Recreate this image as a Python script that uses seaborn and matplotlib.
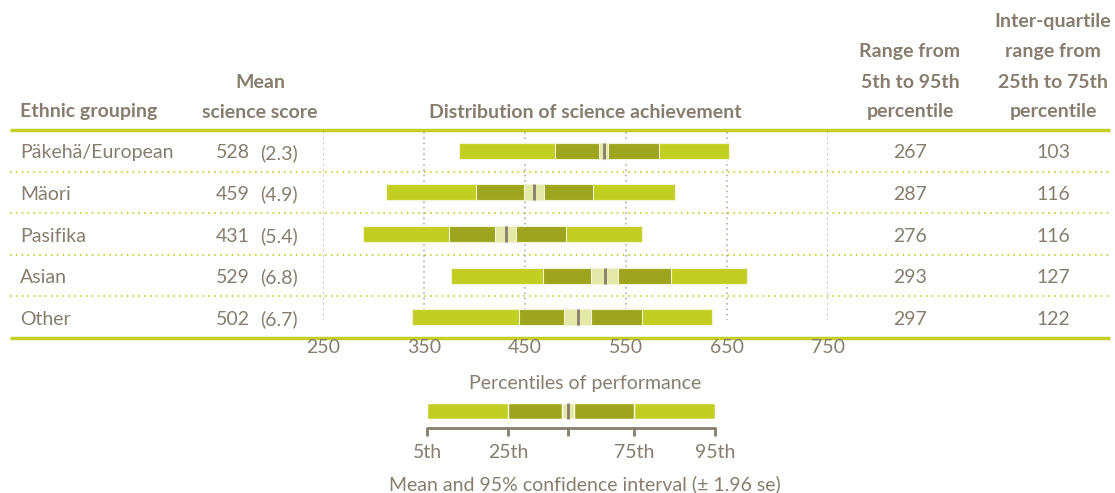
import matplotlib
matplotlib.use("Agg")
import matplotlib.pyplot as plt
import seaborn as sns
import pandas as pd

groups = ["Päkehä/European", "Mäori", "Pasifika", "Asian", "Other"]
mean_score = [528, 459, 431, 529, 502]
mean_se = [2.3, 4.9, 5.4, 6.8, 6.7]
p5 = [385, 312, 290, 377, 338]
p25 = [480, 401, 375, 468, 444]
p75 = [583, 517, 491, 595, 566]
p95 = [652, 599, 566, 670, 635]
range_5_95 = [267, 287, 276, 293, 297]
iqr_25_75 = [103, 116, 116, 127, 122]
score_ticks = [250, 350, 450, 550, 650, 750]

# legend key (drawn on the same score scale)
legend_pct = [353, 433, 558, 638]
legend_pct_labels = ["5th", "25th", "75th", "95th"]
legend_mean = 493
legend_se = 3

light = "#c3ce22"
dark = "#9ea41e"
pale = "#e4e8a8"
grey = "#877d6e"
line_green = "#c4cf24"

sns.set_theme(style="white")
plt.rcParams["font.family"] = ["Lato", "DejaVu Sans"]

df = pd.DataFrame({"group": groups, "mean": mean_score, "se": mean_se,
                   "p5": p5, "p25": p25, "p75": p75, "p95": p95})
df["ci_lo"] = df["mean"] - 1.96 * df["se"]
df["w_outer"] = df["p95"] - df["p5"]
df["w_iqr"] = df["p75"] - df["p25"]
df["w_ci"] = 2 * 1.96 * df["se"]

W, H = 1115, 493
fig = plt.figure(figsize=(W / 100, H / 100), dpi=100)

# overlay in pixel coordinates for the table text and rules
ov = fig.add_axes([0, 0, 1, 1])
ov.set_xlim(0, W)
ov.set_ylim(H, 0)
ov.axis("off")

top, bottom = 130, 338
row_h = (bottom - top) / len(groups)
ov.hlines([top, bottom], 10, 1110, color=line_green, lw=2.5)
ov.hlines([top + row_h * i for i in range(1, len(groups))], 10, 1110,
          color=line_green, lw=1.2, linestyles=(0, (1, 2.5)))

fs = 14
body = dict(color=grey, fontsize=fs, va="center")
hdr = dict(color=grey, fontsize=fs, fontweight="bold", va="center")
ov.text(20, 112, "Ethnic grouping", ha="left", **hdr)
for i, s in enumerate(["Mean", "science score"]):
    ov.text(260, 82 + 30 * i, s, ha="center", **hdr)
ov.text(585, 112, "Distribution of science achievement", ha="center", **hdr)
for i, s in enumerate(["Range from", "5th to 95th", "percentile"]):
    ov.text(910, 52 + 30 * i, s, ha="center", **hdr)
for i, s in enumerate(["Inter-quartile", "range from", "25th to 75th", "percentile"]):
    ov.text(1053, 22 + 30 * i, s, ha="center", **hdr)

for i, g in enumerate(groups):
    yc = top + row_h * (i + 0.5) + 2
    ov.text(20, yc, g, ha="left", **body)
    ov.text(250, yc, f"{mean_score[i]}", ha="right", **body)
    ov.text(298, yc, f"({mean_se[i]})", ha="right", **body)
    ov.text(910, yc, f"{range_5_95[i]}", ha="center", **body)
    ov.text(1053, yc, f"{iqr_25_75[i]}", ha="center", **body)

ov.text(585, 383, "Percentiles of performance", ha="center", **body)
ov.text(585, 484, "Mean and 95% confidence interval (± 1.96 se)", ha="center", **body)

# main distribution panel
x0, x1 = 323, 828
ax = fig.add_axes([x0 / W, (H - bottom) / H, (x1 - x0) / W, (bottom - top) / H])
ax.set_facecolor("none")
bar_h = 0.38
edge = dict(edgecolor="#f2f4d6", linewidth=0.8, saturation=1, errorbar=None, width=bar_h)
sns.barplot(data=df, x="w_outer", y="group", left=df["p5"], color=light, ax=ax, zorder=2, **edge)
sns.barplot(data=df, x="w_iqr", y="group", left=df["p25"], color=dark, ax=ax, zorder=3, **edge)
sns.barplot(data=df, x="w_ci", y="group", left=df["ci_lo"], color=pale, ax=ax, zorder=4, **edge)
ypos = range(len(groups))
ax.vlines(df["mean"], [y - bar_h / 2 for y in ypos], [y + bar_h / 2 for y in ypos],
          color=grey, lw=2, zorder=5)
ax.vlines(score_ticks, -0.45, 4.07, color="#aaa293", lw=1.1, linestyles=(0, (1, 2.5)), zorder=0)

ax.set_xlim(250, 750)
ax.set_ylim(len(groups) - 0.5, -0.5)
ax.set_xticks(score_ticks)
ax.set_xticklabels([str(t) for t in score_ticks])
ax.tick_params(axis="x", length=0, pad=1, labelsize=fs, colors=grey)
ax.tick_params(axis="y", left=False, labelleft=False)
ax.set_xlabel("")
ax.set_ylabel("")
sns.despine(ax=ax, left=True, bottom=True)

# legend key
lg = fig.add_axes([x0 / W, 0, (x1 - x0) / W, (H - 360) / H])
lg.set_xlim(250, 750)
lg.set_ylim(H, 360)
lg.axis("off")
ly, lh = 411, 16
lg.barh([ly], [legend_pct[3] - legend_pct[0]], left=[legend_pct[0]], height=lh, color=light)
lg.barh([ly], [legend_pct[2] - legend_pct[1]], left=[legend_pct[1]], height=lh, color=dark)
lg.barh([ly], [2 * 1.96 * legend_se], left=[legend_mean - 1.96 * legend_se], height=lh, color=pale)
lg.vlines([legend_mean], ly - lh / 2, ly + lh / 2, color=grey, lw=2)
lg.hlines([428], legend_pct[0], legend_pct[3], color=grey, lw=2)
lg.vlines(legend_pct + [legend_mean], 427, 436, color=grey, lw=2)
for v, s in zip(legend_pct, legend_pct_labels):
    lg.text(v, 452, s, ha="center", **body)

fig.savefig("out.png", dpi=100)
